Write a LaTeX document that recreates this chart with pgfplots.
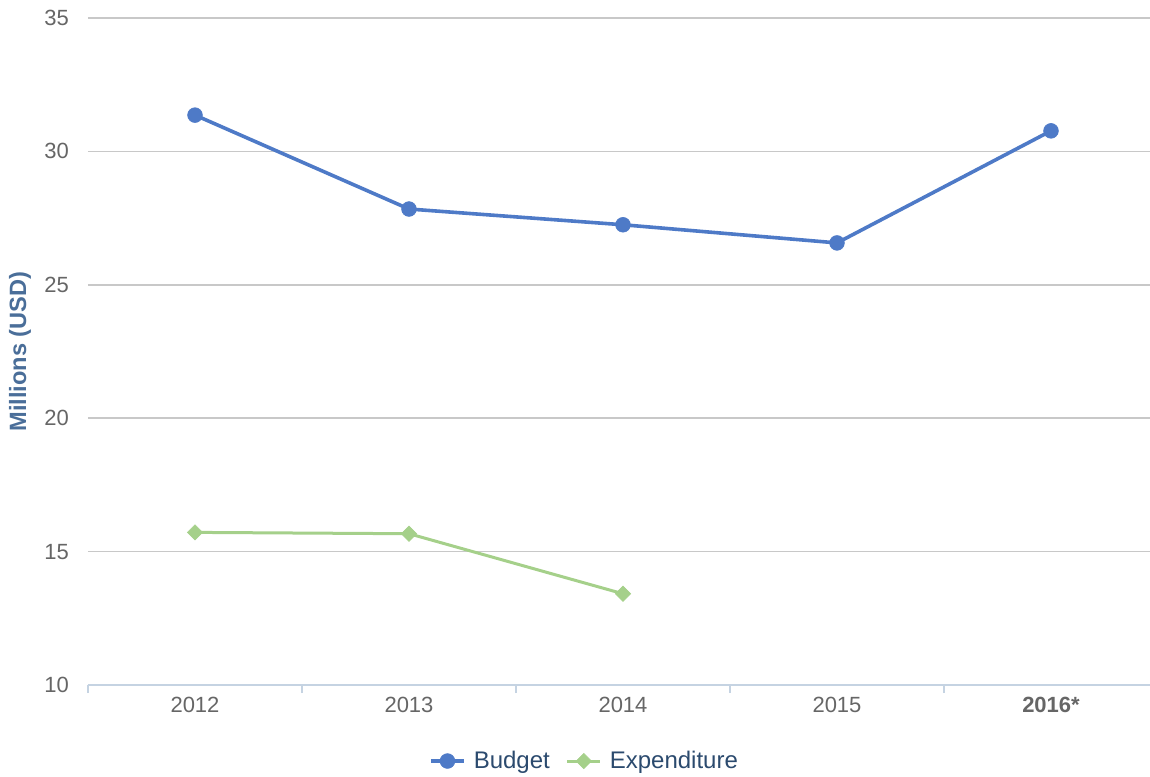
\documentclass[border=0pt]{standalone}
\usepackage{pgfplots}
\pgfplotsset{compat=1.18}
\usepackage{fontspec}
\setmainfont{Liberation Sans}

\definecolor{budget}{HTML}{4E7AC7}
\definecolor{expend}{HTML}{A5D08A}
\definecolor{gridc}{HTML}{C8C8C8}
\definecolor{axisc}{HTML}{C5D3E2}
\definecolor{tickc}{HTML}{666666}
\definecolor{ylab}{HTML}{4A6E99}
\definecolor{legtext}{HTML}{2B4A6E}

\begin{document}
\begin{tikzpicture}
% fixed frame: the plot area runs past the right edge, as in the source
\path[use as bounding box] (-44pt,-45.5pt) rectangle (531pt,342.5pt);
\begin{axis}[
    scale only axis,
    width=535pt, height=333.5pt,
    xmin=-0.5, xmax=4.5,
    ymin=10, ymax=35,
    xtick={0,1,2,3,4},
    xticklabels={2012,2013,2014,2015,\textbf{2016*}},
    minor xtick={-0.5,0.5,1.5,2.5,3.5},
    ytick={10,15,20,25,30,35},
    tick align=outside,
    major tick length=0pt,
    minor tick length=4pt,
    minor tick style={axisc, line width=0.8pt},
    axis x line*=bottom,
    axis y line*=left,
    x axis line style={axisc, line width=1.1pt},
    y axis line style={draw=none},
    ymajorgrids,
    grid style={gridc, line width=0.8pt},
    /pgf/number format/assume math mode=true,
    ticklabel style={font=\fontsize{11}{13}\selectfont, text=tickc},
    yticklabel style={xshift=-6pt},
    xticklabel style={yshift=-2.5pt},
    ylabel={\textbf{Millions (USD)}},
    ylabel style={at={(axis description cs:-0.0636,0.5)}, anchor=center,
        font=\fontsize{11.8}{14}\selectfont, text=ylab},
    legend columns=-1,
    legend style={at={(0.465,-0.114)}, anchor=center, draw=none, fill=none,
        font=\fontsize{12}{14}\selectfont, text=legtext,
        /tikz/every odd column/.append style={column sep=2pt},
        /tikz/every even column/.append style={column sep=6pt}},
    legend image code/.code={
        \draw[#1, mark repeat=2, mark phase=2] plot coordinates {(0cm,0cm) (0.29cm,0cm) (0.58cm,0cm)};},
    clip=false,
]
\addplot[budget, line width=1.8pt, mark=*, mark size=3.7pt, mark options={fill=budget, draw=budget, line width=0.3pt}]
coordinates {
    (0,31.36)
    (1,27.84)
    (2,27.25)
    (3,26.57)
    (4,30.77)
};
\addplot[expend, line width=1.5pt, mark=square*, mark size=2.7pt, mark options={fill=expend, draw=expend, line width=0.3pt, rotate=45}]
coordinates {
    (0,15.72)
    (1,15.67)
    (2,13.42)
};
\legend{Budget, Expenditure}
\end{axis}
\end{tikzpicture}
\end{document}
